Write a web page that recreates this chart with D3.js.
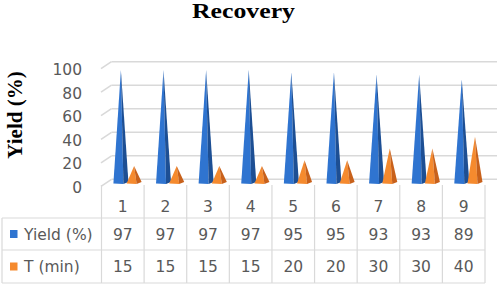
<!DOCTYPE html>
<html>
<head>
<meta charset="utf-8">
<script src="https://cdn.jsdelivr.net/npm/d3@7"></script>
<style>
  body { margin: 0; background: #fff; }
  svg { display: block; }
</style>
</head>
<body>
<script>
// chart values
const categories = ['1', '2', '3', '4', '5', '6', '7', '8', '9'];
const seriesNames = ['Yield (%)', 'T (min)'];
const yieldValues = [97, 97, 97, 97, 95, 95, 93, 93, 89];
const timeValues = [15, 15, 15, 15, 20, 20, 30, 30, 40];
const yTicks = [0, 20, 40, 60, 80, 100];

const seriesValues = [yieldValues, timeValues];
const colours = [
    { light: '#2f74d0', dark: '#1d4f94' },   // blue
    { light: '#f58a2e', dark: '#c8611b' }    // orange
];

const width = 498, height = 285;
const grid = '#d9d9d9';
const textColour = '#595959';

const svg = d3.select('body')
    .append('svg')
    .attr('width', width)
    .attr('height', height);

// Title
svg.append('text')
    .attr('x', 243.5)
    .attr('y', 17.5)
    .attr('text-anchor', 'middle')
    .attr('textLength', 103)
    .attr('lengthAdjust', 'spacingAndGlyphs')
    .style('font-family', '"Liberation Serif", "Times New Roman", serif')
    .style('font-weight', 'bold')
    .style('font-size', '20px')
    .text('Recovery');

// Y axis title
svg.append('text')
    .attr('transform', 'translate(22,115) rotate(-90)')
    .attr('text-anchor', 'middle')
    .style('font-family', '"Liberation Serif", "Times New Roman", serif')
    .style('font-weight', 'bold')
    .style('font-size', '21px')
    .text('Yield (%)');

// scales: the front face of the plot, the back wall and the mid plane where the cones stand
const x = d3.scaleBand().domain(categories).range([101.5, 485]);
const xSeries = d3.scaleBand().domain(seriesNames)
    .range([x.bandwidth() * 0.3, x.bandwidth() * 0.92]);
const yBack = d3.scaleLinear().domain([0, 100]).range([179.3, 61.7]);
const yMid = d3.scaleLinear().domain([0, 100]).range([183.6, 66.4]);
const depthX = 10, depthY = 7;

// back wall gridlines + side wall diagonals
const gridG = svg.append('g');
gridG.selectAll('line.h')
    .data(yTicks)
    .enter()
    .append('line')
    .attr('x1', 101.5 + depthX)
    .attr('x2', 497)
    .attr('y1', d => yBack(d))
    .attr('y2', d => yBack(d))
    .style('stroke', grid)
    .style('stroke-width', 1.5);

gridG.selectAll('line.d')
    .data(yTicks)
    .enter()
    .append('line')
    .attr('x1', 101)
    .attr('y1', d => yBack(d) + depthY)
    .attr('x2', 101.5 + depthX)
    .attr('y2', d => yBack(d))
    .style('stroke', grid)
    .style('stroke-width', 1.5);

// y tick labels
svg.append('g')
    .selectAll('text')
    .data(yTicks)
    .enter()
    .append('text')
    .attr('x', 82)
    .attr('y', d => yBack(d) + 8)
    .attr('dy', '0.36em')
    .attr('text-anchor', 'end')
    .style('font-family', '"DejaVu Sans", Verdana, sans-serif')
    .style('font-size', '15.5px')
    .style('fill', textColour)
    .text(d => d);

// cones (pyramids): a lit left face and a dark right face
const half = 7.5;
const coneData = [];
seriesNames.forEach((s, si) => {
    categories.forEach((c, ci) => {
        coneData.push({ series: s, si: si, cat: c, value: seriesValues[si][ci] });
    });
});

const cones = svg.append('g')
    .selectAll('g')
    .data(coneData)
    .enter()
    .append('g');

cones.append('path')
    .attr('d', d => {
        const cx = x(d.cat) + xSeries(d.series) + xSeries.bandwidth() / 2;
        const base = yMid(0);
        const tip = yMid(d.value);
        return `M${cx - half},${base} L${cx},${tip} L${cx + 2.5},${base + 0.5} Z`;
    })
    .style('fill', d => colours[d.si].light);

cones.append('path')
    .attr('d', d => {
        const cx = x(d.cat) + xSeries(d.series) + xSeries.bandwidth() / 2;
        const base = yMid(0);
        const tip = yMid(d.value);
        return `M${cx + 2.5},${base + 0.5} L${cx},${tip} L${cx + half},${base - 1.5} Z`;
    })
    .style('fill', d => colours[d.si].dark);

// data table
const rowTop = 185, row1 = 218, row2 = 250, row3 = 283;
const table = svg.append('g');

table.selectAll('line.v')
    .data(categories.map(c => x(c)).concat([485]))
    .enter()
    .append('line')
    .attr('x1', d => d)
    .attr('x2', d => d)
    .attr('y1', rowTop)
    .attr('y2', row3)
    .style('stroke', grid)
    .style('stroke-width', 1.2);

table.append('line')
    .attr('x1', 2).attr('x2', 2)
    .attr('y1', row1).attr('y2', row3)
    .style('stroke', grid)
    .style('stroke-width', 1.2);

table.selectAll('line.h')
    .data([row1, row2, row3])
    .enter()
    .append('line')
    .attr('x1', 2)
    .attr('x2', 485)
    .attr('y1', d => d)
    .attr('y2', d => d)
    .style('stroke', grid)
    .style('stroke-width', 1.2);

const tableFont = sel => sel
    .style('font-family', '"DejaVu Sans", Verdana, sans-serif')
    .style('font-size', '15.5px')
    .style('fill', textColour);

// header row: category numbers
table.selectAll('text.cat')
    .data(categories)
    .enter()
    .append('text')
    .attr('x', d => x(d) + x.bandwidth() / 2)
    .attr('y', (rowTop + row1) / 2 + 4.5)
    .attr('dy', '0.36em')
    .attr('text-anchor', 'middle')
    .call(tableFont)
    .text(d => d);

const rowCentres = [(row1 + row2) / 2, (row2 + row3) / 2];

seriesNames.forEach((s, si) => {
    const cy = rowCentres[si];
    table.append('rect')
        .attr('x', 10)
        .attr('y', cy - 4)
        .attr('width', 7.5)
        .attr('height', 8)
        .style('fill', colours[si].light);

    table.append('text')
        .attr('x', 24)
        .attr('y', cy)
        .attr('dy', '0.36em')
        .call(tableFont)
        .text(s);

    table.selectAll('text.v' + si)
        .data(seriesValues[si])
        .enter()
        .append('text')
        .attr('x', (d, i) => x(categories[i]) + x.bandwidth() / 2)
        .attr('y', cy)
        .attr('dy', '0.36em')
        .attr('text-anchor', 'middle')
        .call(tableFont)
        .text(d => d);
});
</script>
</body>
</html>
